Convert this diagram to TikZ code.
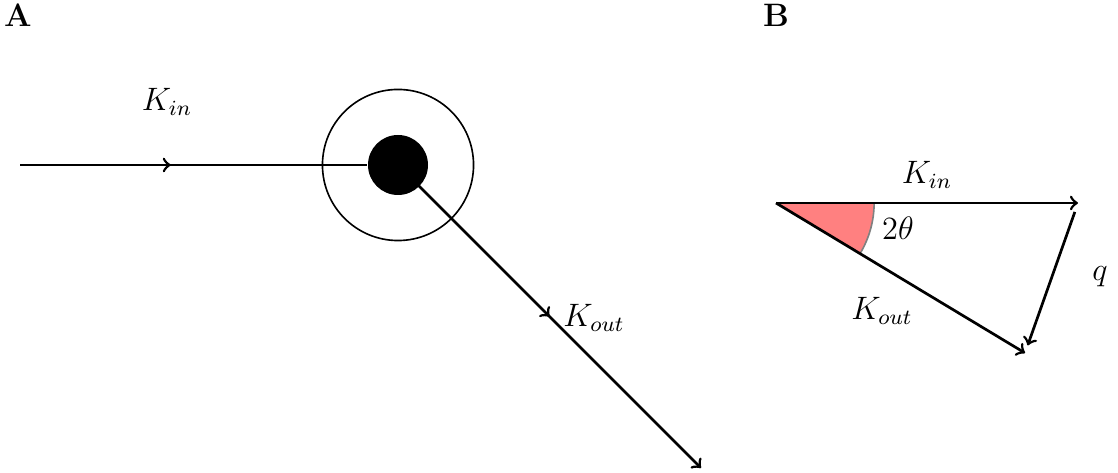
\documentclass[tikz,border=0pt]{standalone}
\usepackage{amssymb,amsfonts}
\usepackage{tikz}
\usetikzlibrary{arrows, positioning}
\usetikzlibrary{decorations.markings}
\usetikzlibrary{angles, quotes}
\definecolor{wedge1}{RGB}{255,128,128}

\begin{document}
\begin{tikzpicture}[
    x=0.37pt, y=-0.37pt,
    every node/.append style={font=\large},
    beam/.style={line width=1pt, color=black},
    midarrow/.style={postaction={decorate},
      decoration={markings, mark=at position 0.5 with {\arrow{>}}}},
    shell/.style={draw, circle, line width=0.6pt, inner sep=0pt, minimum size=55.9pt},
    core/.style={fill=black, circle, inner sep=0pt, minimum size=22.2pt},
    panel/.style={font=\large\bfseries}
]
        \useasboundingbox (0,0) rectangle (1118,473);

        % panel A: scattering
        \node[panel, name=labA] at(18,15) {A};
        \node[shell, name=shell] at(398,165) {};
        \node[core, name=core] at(398,165) {};
        \coordinate (src) at(20,165);
        \coordinate (sink) at(701,468);

        \draw[beam, midarrow] (src) -- (shell.west);
        \draw[beam] (shell.west) -- (core);
        \draw[beam, midarrow, ->] (core.center) -- (sink);

        \node[name=kinA] at(167,102) {$K_{in}$};
        \node[name=koutA] at(594,318) {$K_{out}$};

        % panel B: wave vectors
        \node[panel, name=labB] at(776,15) {B};
        \coordinate (o) at(776,203);
        \coordinate (kin) at(1078,203);
        \coordinate (kout) at(1025,353);

        \pic[draw=gray, line width=0.6pt, fill=wedge1, angle radius=36.3pt] {angle = kout--o--kin};

        \draw[beam, ->] (o) -- (kin);
        \draw[beam, ->] (o) -- (kout);
        \draw[beam, ->, shorten <=3.5pt, shorten >=3pt] (kin) -- (kout);

        \node[name=kinB] at(927,175) {$K_{in}$};
        \node[name=koutB] at(882,311) {$K_{out}$};
        \node[name=ang] at(898,228) {$2\theta$};
        \node[name=qB] at(1100,277) {$q$};
\end{tikzpicture}
\end{document}
